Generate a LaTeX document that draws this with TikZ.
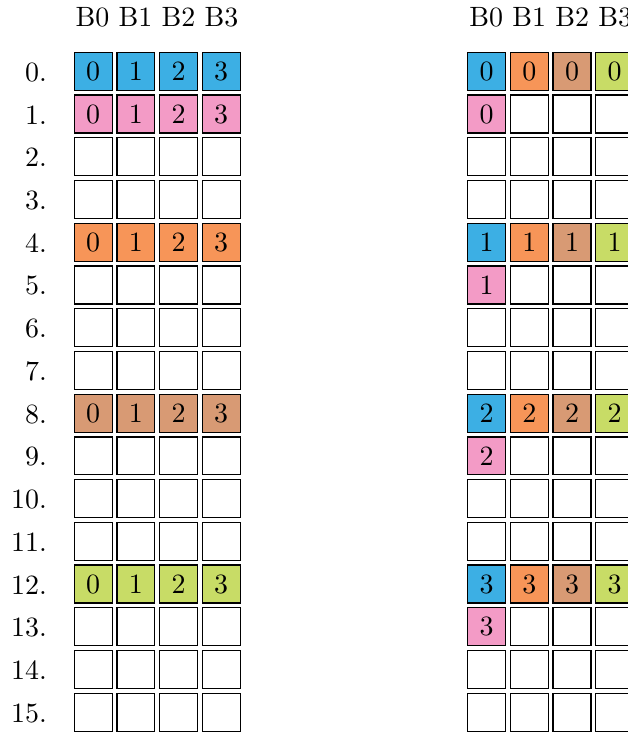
\documentclass[tikz,border=0pt]{standalone}
\definecolor{cblue}{RGB}{60,175,228}
\definecolor{cpink}{RGB}{243,155,198}
\definecolor{corange}{RGB}{247,149,88}
\definecolor{ctan}{RGB}{216,154,116}
\definecolor{cgreen}{RGB}{200,220,102}
\begin{document}
\begin{tikzpicture}[x=0.358pt,y=-0.358pt,
  cell/.style={draw=black,line width=0.45pt,minimum size=13.6pt,inner sep=0pt},
  lbl/.style={anchor=base east,inner sep=0pt},
  hdr/.style={anchor=base,inner sep=0pt}]
\useasboundingbox (0,0) rectangle (627,733);
\node[hdr] (LH) at (157,26.7) {B0 B1 B2 B3};
\node[hdr] (RH) at (550.7,26.7) {B0 B1 B2 B3};
\foreach \r in {0,...,15}{
  \node[lbl] (lab\r) at (47.5,81.3+42.73*\r) {\r.};
}
% left grid
\foreach \r/\col in {0/cblue,1/cpink,4/corange,8/ctan,12/cgreen}{
  \foreach \c in {0,...,3}{
    \node[cell,fill=\col] (L-\r-\c) at (93.2+42.67*\c,71.3+42.73*\r) {\c};
  }
}
\foreach \r in {2,3,5,6,7,9,10,11,13,14,15}{
  \foreach \c in {0,...,3}{
    \node[cell] (L-\r-\c) at (93.2+42.67*\c,71.3+42.73*\r) {};
  }
}
% right grid
\foreach \r in {0,4,8,12}{
  \pgfmathtruncatemacro{\k}{\r/4}
  \foreach \c/\col in {0/cblue,1/corange,2/ctan,3/cgreen}{
    \node[cell,fill=\col] (R-\r-\c) at (486.7+42.67*\c,71.3+42.73*\r) {\k};
  }
}
\foreach \r in {1,5,9,13}{
  \pgfmathtruncatemacro{\k}{(\r-1)/4}
  \node[cell,fill=cpink] (R-\r-0) at (486.7,71.3+42.73*\r) {\k};
  \foreach \c in {1,2,3}{
    \node[cell] (R-\r-\c) at (486.7+42.67*\c,71.3+42.73*\r) {};
  }
}
\foreach \r in {2,3,6,7,10,11,14,15}{
  \foreach \c in {0,...,3}{
    \node[cell] (R-\r-\c) at (486.7+42.67*\c,71.3+42.73*\r) {};
  }
}
\end{tikzpicture}
\end{document}
